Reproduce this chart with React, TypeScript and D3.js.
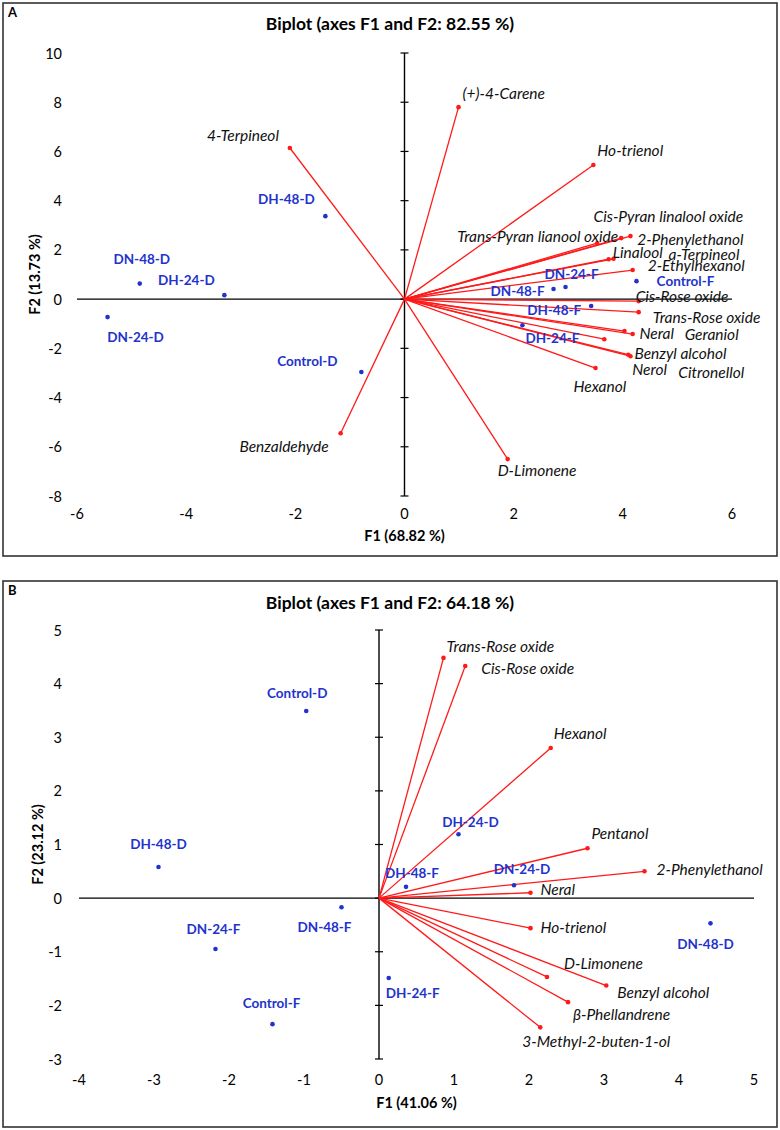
import React from 'react';
import * as d3 from 'd3';

// ---------- Panel A data ----------
const aTitle = 'Biplot (axes F1 and F2: 82.55 %)';
const aXLabel = 'F1 (68.82 %)';
const aYLabel = 'F2 (13.73 %)';
const aXTicks = [-6, -4, -2, 0, 2, 4, 6];
const aYTicks = [-8, -6, -4, -2, 0, 2, 4, 6, 8, 10];

const aVarNames = [
  '(+)-4-Carene', 'Ho-trienol', '4-Terpineol', 'Benzaldehyde', 'D-Limonene',
  'Trans-Pyran lianool oxide', 'Cis-Pyran linalool oxide', '2-Phenylethanol', 'Linalool', 'a-Terpineol',
  '2-Ethylhexanol', 'Cis-Rose oxide', 'Trans-Rose oxide', 'Neral', 'Geraniol',
  'Nerol', 'Benzyl alcohol', 'Citronellol', 'Hexanol',
];
const aVarF1 = [0.99, 3.46, -2.1, -1.17, 1.89, 3.53, 4.14, 3.97, 3.74, 3.83, 4.18, 4.29, 4.29, 4.03, 4.18, 3.66, 4.14, 4.1, 3.5];
const aVarF2 = [7.8, 5.45, 6.14, -5.45, -6.5, 2.27, 2.56, 2.48, 1.62, 1.64, 1.18, -0.08, -0.53, -1.3, -1.42, -1.63, -2.32, -2.26, -2.8];

const aObsNames = ['DH-48-D', 'DN-48-D', 'DH-24-D', 'DN-24-D', 'Control-D', 'DN-24-F', 'DN-48-F', 'Control-F', 'DH-48-F', 'DH-24-F'];
const aObsF1 = [-1.45, -4.85, -3.3, -5.44, -0.79, 2.95, 2.73, 4.25, 3.42, 2.16];
const aObsF2 = [3.37, 0.63, 0.16, -0.73, -2.96, 0.49, 0.41, 0.73, -0.28, -1.06];

// ---------- Panel B data ----------
const bTitle = 'Biplot (axes F1 and F2: 64.18 %)';
const bXLabel = 'F1 (41.06 %)';
const bYLabel = 'F2 (23.12 %)';
const bXTicks = [-4, -3, -2, -1, 0, 1, 2, 3, 4, 5];
const bYTicks = [-3, -2, -1, 0, 1, 2, 3, 4, 5];

const bVarNames = [
  'Trans-Rose oxide', 'Cis-Rose oxide', 'Hexanol', 'Pentanol', '2-Phenylethanol', 'Neral',
  'Ho-trienol', 'D-Limonene', 'Benzyl alcohol', 'β-Phellandrene', '3-Methyl-2-buten-1-ol',
];
const bVarF1 = [0.86, 1.15, 2.29, 2.78, 3.54, 2.02, 2.02, 2.24, 3.03, 2.52, 2.15];
const bVarF2 = [4.48, 4.33, 2.8, 0.93, 0.5, 0.1, -0.56, -1.47, -1.63, -1.94, -2.41];

const bObsNames = ['Control-D', 'DH-48-D', 'DN-24-F', 'DN-48-F', 'Control-F', 'DH-24-F', 'DH-24-D', 'DH-48-F', 'DN-24-D', 'DN-48-D'];
const bObsF1 = [-0.97, -2.94, -2.18, -0.5, -1.42, 0.13, 1.06, 0.36, 1.8, 4.42];
const bObsF2 = [3.49, 0.58, -0.95, -0.17, -2.35, -1.49, 1.19, 0.21, 0.24, -0.47];

// ---------- label placement (pixels offset from mark, anchor) ----------
type Off = [number, number, string];
const aVarLabelOff: Off[] = [
  [4, -14, 'start'], [4, -15, 'start'], [-11, -13, 'end'], [-12, 13, 'end'], [-10, 11, 'start'],
  [21, -7, 'end'], [-37, -20, 'start'], [16, 1, 'start'], [4, -7, 'start'], [55, -5, 'start'],
  [15, -5, 'start'], [-3, -5, 'start'], [14, 5, 'start'], [15, 2, 'start'], [52, 0, 'start'],
  [28, 30, 'start'], [4, -3, 'start'], [50, 17, 'start'], [-22, 18, 'start'],
];
const aObsLabelOff: Off[] = [
  [-39, -17, 'middle'], [2, -25, 'middle'], [-38, -15, 'middle'], [28, 20, 'middle'], [-54, -11, 'middle'],
  [6, -13, 'middle'], [-36, 2, 'middle'], [49, 0, 'middle'], [-37, 4, 'middle'], [30, 13, 'middle'],
];
const bVarLabelOff: Off[] = [
  [3, -12, 'start'], [16, 2, 'start'], [3, -15, 'start'], [4, -15, 'start'], [12, -2, 'start'], [10, -4, 'start'],
  [10, -1, 'start'], [17, -14, 'start'], [11, 6, 'start'], [5, 12, 'start'], [-18, 14, 'start'],
];
const bObsLabelOff: Off[] = [
  [-9, -18, 'middle'], [0, -23, 'middle'], [-2, -20, 'middle'], [-17, 20, 'middle'], [-1, -21, 'middle'],
  [24, 15, 'middle'], [12, -12, 'middle'], [6, -14, 'middle'], [8, -16, 'middle'], [-5, 21, 'middle'],
];

const FONT = 'Lato, "Open Sans", sans-serif';
const RED = '#ff1a1a';
const BLUE = '#2233cc';

type PanelProps = {
  letter: string;
  frame: [number, number, number, number];
  title: string; titleY: number;
  xLabel: string; xLabelY: number;
  yLabel: string; yLabelX: number;
  xDomain: [number, number]; xRange: [number, number];
  yDomain: [number, number]; yRange: [number, number];
  xTicks: number[]; yTicks: number[]; xTickY: number;
  varNames: string[]; varF1: number[]; varF2: number[]; varOff: Off[];
  obsNames: string[]; obsF1: number[]; obsF2: number[]; obsOff: Off[];
};

function Panel(p: PanelProps) {
  const x = d3.scaleLinear().domain(p.xDomain).range(p.xRange);
  const y = d3.scaleLinear().domain(p.yDomain).range(p.yRange);
  const [fx, fy, fw, fh] = p.frame;
  const cx = (p.xRange[0] + p.xRange[1]) / 2;
  const cy = (p.yRange[0] + p.yRange[1]) / 2;
  return (
    <g>
      <rect x={fx} y={fy} width={fw} height={fh} fill="#fff" stroke="#333" strokeWidth={1.6} />
      <text x={fx + 5} y={fy + 9} fontFamily={FONT} fontWeight="bold" fontSize={13} dominantBaseline="central">{p.letter}</text>
      <text x={fx + fw / 2} y={p.titleY} fontFamily={FONT} fontWeight="bold" fontSize={17.5} textAnchor="middle" dominantBaseline="central">{p.title}</text>
      {/* horizontal axis */}
      <line x1={x(p.xDomain[0])} x2={x(p.xDomain[1])} y1={y(0)} y2={y(0)} stroke="#000" strokeWidth={1.4} />
      {/* vertical axis with ticks */}
      <line x1={x(0)} x2={x(0)} y1={y(p.yDomain[0])} y2={y(p.yDomain[1])} stroke="#000" strokeWidth={1.4} />
      {p.yTicks.map((t) => (
        <g key={'yt' + t}>
          <line x1={x(0) - 4} x2={x(0) + 4} y1={y(t)} y2={y(t)} stroke="#000" strokeWidth={1.2} />
          <text x={62} y={y(t)} fontFamily={FONT} fontSize={14.5} textAnchor="end" dominantBaseline="central">{t}</text>
        </g>
      ))}
      {p.xTicks.map((t) => (
        <text key={'xt' + t} x={x(t)} y={p.xTickY} fontFamily={FONT} fontSize={14.5} textAnchor="middle" dominantBaseline="central">{t}</text>
      ))}
      <text x={cx} y={p.xLabelY} fontFamily={FONT} fontWeight="bold" fontSize={14.5} textAnchor="middle" dominantBaseline="central">{p.xLabel}</text>
      <text transform={`translate(${p.yLabelX},${cy}) rotate(-90)`} fontFamily={FONT} fontWeight="bold" fontSize={14.5} textAnchor="middle" dominantBaseline="central">{p.yLabel}</text>
      {/* variable vectors */}
      {p.varNames.map((n, i) => (
        <g key={'v' + n}>
          <line x1={x(0)} y1={y(0)} x2={x(p.varF1[i])} y2={y(p.varF2[i])} stroke={RED} strokeWidth={1.3} />
          <circle cx={x(p.varF1[i])} cy={y(p.varF2[i])} r={2.3} fill={RED} />
        </g>
      ))}
      {p.varNames.map((n, i) => (
        <text key={'vl' + n} x={x(p.varF1[i]) + p.varOff[i][0]} y={y(p.varF2[i]) + p.varOff[i][1]}
          fontFamily={FONT} fontStyle="italic" fontSize={15.5} fill="#111" textAnchor={p.varOff[i][2]} dominantBaseline="central">{n}</text>
      ))}
      {/* observations */}
      {p.obsNames.map((n, i) => (
        <g key={'o' + n}>
          <circle cx={x(p.obsF1[i])} cy={y(p.obsF2[i])} r={2.3} fill={BLUE} />
          <text x={x(p.obsF1[i]) + p.obsOff[i][0]} y={y(p.obsF2[i]) + p.obsOff[i][1]}
            fontFamily={FONT} fontWeight="bold" fontSize={13.5} fill={BLUE} textAnchor={p.obsOff[i][2]} dominantBaseline="central">{n}</text>
        </g>
      ))}
    </g>
  );
}

export default function App() {
  return (
    <svg width={780} height={1130} style={{ position: 'absolute', left: 0, top: 0, background: '#fff' }}>
      <Panel
        letter="A" frame={[3, 3, 774, 553]}
        title={aTitle} titleY={23}
        xLabel={aXLabel} xLabelY={535}
        yLabel={aYLabel} yLabelX={34}
        xDomain={[-6, 6]} xRange={[77, 732]}
        yDomain={[-8, 10]} yRange={[496, 53]}
        xTicks={aXTicks} yTicks={aYTicks} xTickY={513}
        varNames={aVarNames} varF1={aVarF1} varF2={aVarF2} varOff={aVarLabelOff}
        obsNames={aObsNames} obsF1={aObsF1} obsF2={aObsF2} obsOff={aObsLabelOff}
      />
      <Panel
        letter="B" frame={[3, 581, 774, 546]}
        title={bTitle} titleY={602}
        xLabel={bXLabel} xLabelY={1102}
        yLabel={bYLabel} yLabelX={37}
        xDomain={[-4, 5]} xRange={[79, 754]}
        yDomain={[-3, 5]} yRange={[1059, 630]}
        xTicks={bXTicks} yTicks={bYTicks} xTickY={1079}
        varNames={bVarNames} varF1={bVarF1} varF2={bVarF2} varOff={bVarLabelOff}
        obsNames={bObsNames} obsF1={bObsF1} obsF2={bObsF2} obsOff={bObsLabelOff}
      />
    </svg>
  );
}
